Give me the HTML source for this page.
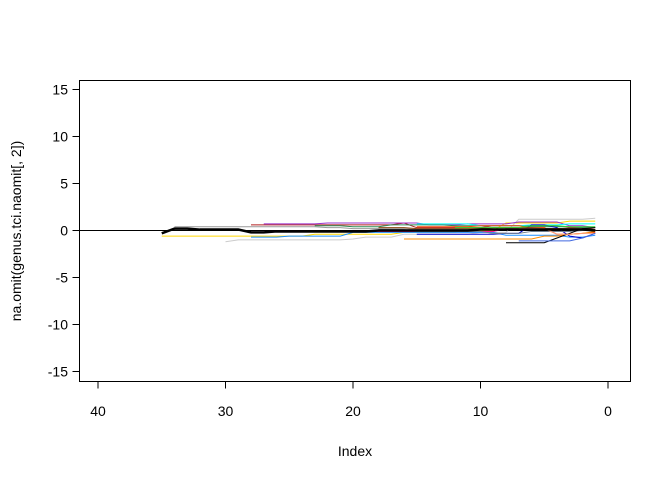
<!DOCTYPE html>
<html><head><meta charset="utf-8"><style>
body{margin:0;background:#fff}
svg{display:block;font-family:"Liberation Sans",Arial,sans-serif}
</style></head><body>
<svg id="chart" width="672" height="480">
<rect x="79.5" y="80.5" width="551" height="301" fill="none" stroke="#000"/>
<g id="axes"></g>
<g id="series"></g>
<text x="355" y="456" font-size="14" text-anchor="middle">Index</text>
<text transform="translate(21,231) rotate(-90)" font-size="14" text-anchor="middle">na.omit(genus.tci.naomit[, 2])</text>
</svg>
<script>
const xTicks=[40,30,20,10,0];
const yTicks=[-15,-10,-5,0,5,10,15];
const seriesColors=["#999999","#ffd700","#cccccc","#1e90ff","#b22222","#9932cc","#2e8b57","#00ffff","#ff4500","#0000cd","#ff1493","#8b4513","#32cd32","#ff8c00","#708090","#000000","#ffa07a","#4169e1"];
// each series: values from its start index down to index 1
const seriesValues=[
 [0.4,0.4,0.4,0.4,0.4,0.4,0.4,0.4,0.4,0.4,0.4,0.4,0.3,0.3,0.2,0.2,0.2,0.2,0.2,0.1,0.1,0.1,0.1,0.1,0.1,0.1,0.1,0.1,0.1,0.1,0.1,0.1,0.1,0.1],
 [-0.6,-0.6,-0.6,-0.6,-0.6,-0.6,-0.6,-0.6,-0.6,-0.6,-0.6,-0.6,-0.4,-0.4,-0.4,-0.4,-0.4,-0.4,-0.4,-0.2,-0.2,-0.2,-0.2,-0.2,0,0,0,0.8,0.8,0.8,0.8,0.8,1,1,1],
 [-1.2,-1,-1,-1,-1,-1,-1,-1,-1,-1,-0.9,-0.7,-0.7,-0.7,-0.4,-0.4,-0.4,-0.4,-0.4,-0.4,-0.2,-0.2,-0.2,1.2,1.2,1.2,1.2,1.2,1.2,1.3],
 [-0.7,-0.7,-0.7,-0.6,-0.6,-0.6,-0.6,-0.6,-0.2,-0.2,-0.2,-0.2,-0.2,-0.2,-0.2,-0.2,-0.2,-0.2,-0.2,-0.2,-0.5,-0.5,-0.5,-0.5,-0.5,-0.7,-0.7,-0.5],
 [0.6,0.6,0.6,0.6,0.6,0.6,0.6,0.6,0.6,0.6,0.6,0.6,0.8,0.3,0.3,0.3,0.3,0.3,0.3,0.5,0.5,0.5,0.5,0.5,0.5,0.3,0.3,0.1],
 [0.7,0.7,0.7,0.7,0.7,0.8,0.8,0.8,0.8,0.8,0.8,0.8,0.8,0.6,0.6,0.6,0.7,0.7,0.7,0.7,0.9,0.9,0.9,0.9,0.5,0.5,0.3],
 [0.5,0.5,0.5,0.4,0.4,0.4,0.6,0.6,0.6,0.6,0.6,0.5,0.5,0.5,0.5,0.5,0.5,0.4,0.4,0.4,0.4,0.3,0.3],
 [0.7,0.7,0.7,0.7,0.7,0.5,0.5,0.5,0.5,0.6,0.6,0.6,0.7,0.7,0.7],
 [0.4,0.4,0.4,0.4,0.4,0.5,0.5,0.5,0.5,0.3,0.3,-0.4,-0.4,-0.3,-0.2],
 [-0.4,-0.4,-0.4,-0.4,-0.4,-0.4,-0.4,-0.3,-0.3,0.6,0.6,0.3,-0.6,-0.8,-0.3],
 [-0.1,-0.1,-0.1,-0.1,-0.1,-0.1,-0.1,-0.1,-0.1,-0.1,-0.1,-0.1,-0.1,-0.1,-0.1,0.2,0.2,0.2,0.2,0.2,0.1,0.1,0.1],
 [0.3,0.3,0.3,0.2,0.2,0.2,0.2,0.2,0.2,0.3,0.3,0.3,0.3,0.2,0.2,0.2,0.2,0.1],
 [0.3,0.3,0.3,0.3,0.3,0.3,0.5,0.5,0.5,0.4,0.4,0.4],
 [-0.9,-0.9,-0.9,-0.9,-0.9,-0.9,-0.9,-0.9,-0.9,-0.9,-0.9,-0.6,-0.6,-0.4,-0.3,-0.1],
 [0.1,0.1,0.1,-0.1,-0.1,-0.1,-0.1,-0.1,-0.1,-0.3,-0.3,-0.3,-0.1,-0.1,-0.1,-0.1,0,0],
 [-1.3,-1.3,-1.3,-1.3,-0.8,-0.3,0.2,0.3],
 [0.2,0.2,0.2,-0.4,-0.4,-0.3,-0.3],
 [-1.1,-1.1,-1.1,-1.1,-1.1,-0.8,-0.3]
];
const mainSeries=[-0.3,0.2,0.2,0.1,0.1,0.1,0.1,-0.2,-0.2,-0.1,-0.1,-0.1,-0.1,-0.1,-0.1,-0.1,-0.1,0,0,0,0,0,0,0,0,0.1,0.1,0.1,0.1,0.1,0.1,0.1,0.1,0.1,0];
const xs=v=>608-v*12.75, ys=v=>230.5-v*9.4;
const NS="http://www.w3.org/2000/svg";
const ax=document.getElementById('axes'), sg=document.getElementById('series');
function mk(tag,attrs,parent){const e=document.createElementNS(NS,tag);for(const k in attrs)e.setAttribute(k,attrs[k]);parent.appendChild(e);return e;}
const xl=mk('line',{x1:xs(40),x2:xs(0),y1:381.5,y2:381.5,stroke:'#000'},ax);


xTicks.forEach(t=>{
 const l=mk('line',{x1:xs(t),x2:xs(t),y1:381.5,y2:388.5,stroke:'#000'},ax);
 
 
 const tx=mk('text',{x:xs(t),y:416,'font-size':14,'text-anchor':'middle'},ax);tx.textContent=t;
 
 
});
const yl=mk('line',{x1:79.5,x2:79.5,y1:ys(15),y2:ys(-15),stroke:'#000'},ax);


yTicks.forEach(t=>{
 const l=mk('line',{x1:72.5,x2:79.5,y1:ys(t),y2:ys(t),stroke:'#000'},ax);
 
 
 const tx=mk('text',{x:68,y:ys(t)+5,'font-size':14,'text-anchor':'end'},ax);tx.textContent=t;
 
 
});
const zl=mk('line',{x1:79.5,x2:630.5,y1:ys(0),y2:ys(0),stroke:'#000'},ax);


function pts(arr){const n=arr.length;return arr.map((v,i)=>xs(n-i)+','+ys(v)).join(' ');}
seriesValues.forEach((arr,k)=>{
 const p=mk('polyline',{points:pts(arr),fill:'none',stroke:seriesColors[k%seriesColors.length],'stroke-width':1},sg);
 
 
});
const m=mk('polyline',{points:pts(mainSeries),fill:'none',stroke:'#000','stroke-width':2.5},sg);


</script>
</body></html>
